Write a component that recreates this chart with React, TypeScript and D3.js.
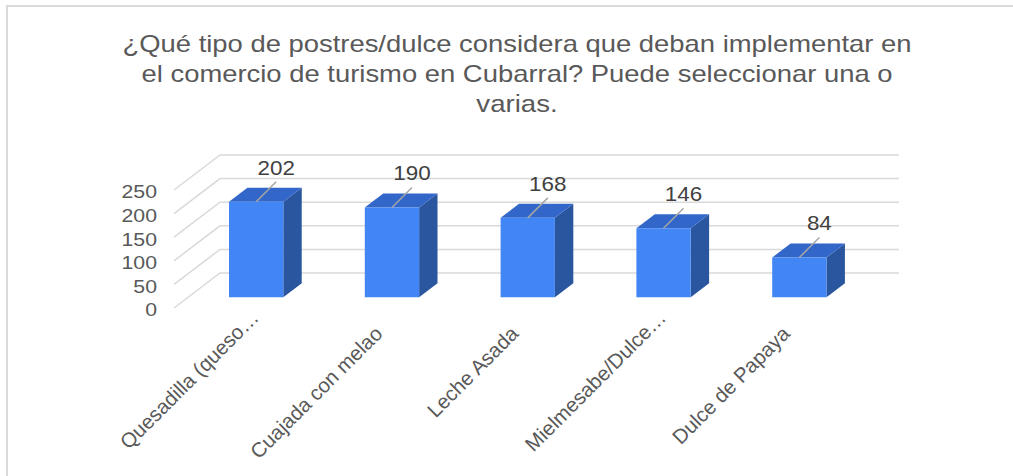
import React, { useRef, useEffect } from 'react';
import * as d3 from 'd3';

// Chart data
const categories = [
  'Quesadilla (queso…',
  'Cuajada con melao',
  'Leche Asada',
  'Mielmesabe/Dulce…',
  'Dulce de Papaya',
];
const values = [202, 190, 168, 146, 84];
const yTicks = [0, 50, 100, 150, 200, 250];
const titleLines = [
  '¿Qué tipo de postres/dulce considera que deban implementar en',
  'el comercio de turismo en Cubarral? Puede seleccionar una o',
  'varias.',
];

const W = 1013;
const H = 476;
const SX = 1.15; // the original picture is a bit wider than tall

function App() {
  const svgRef = useRef<SVGSVGElement>(null);

  useEffect(() => {
    const svg = d3.select(svgRef.current);
    svg.selectAll('*').remove();

    const font = 'Arial, "Liberation Sans", sans-serif';

    // Outer frame (only top and left edges are visible)
    svg.append('rect')
      .attr('x', 7)
      .attr('y', 6)
      .attr('width', W + 20)
      .attr('height', H + 20)
      .attr('fill', '#fff')
      .attr('stroke', '#d9d9d9')
      .attr('stroke-width', 2);

    // Title
    const titleWidths = [789, 751, null];
    titleLines.forEach((line, i) => {
      const t = svg.append('text')
        .attr('x', 517)
        .attr('y', 52 + i * 30)
        .attr('text-anchor', 'middle')
        .style('font-family', font)
        .style('font-size', '24px')
        .attr('fill', '#595959')
        .text(line);
      if (titleWidths[i]) {
        t.attr('textLength', titleWidths[i]).attr('lengthAdjust', 'spacingAndGlyphs');
      } else {
        t.attr('transform', `translate(517,0) scale(${SX},1) translate(-517,0)`);
      }
    });

    // Scales (front plane)
    const x = d3.scaleBand()
      .domain(categories)
      .range([174, 853])
      .paddingInner(0.6)
      .paddingOuter(0.3);

    const y = d3.scaleLinear()
      .domain([0, 250])
      .range([308, 190]);

    // depth vector of the 3D box
    const depth = { dx: 46, dy: -35 };
    const p = (px: number, v: number, t: number) => [px + depth.dx * t, y(v) + depth.dy * t];

    // Gridlines: side wall + back wall
    const grid = svg.append('g')
      .attr('stroke', '#d9d9d9')
      .attr('stroke-width', 1.5)
      .attr('fill', 'none');

    yTicks.forEach(v => {
      const a = p(174, v, 0);
      const b = p(174, v, 1);
      const c = p(853, v, 1);
      grid.append('path')
        .attr('d', `M${a[0]},${a[1]}L${b[0]},${b[1]}L${c[0]},${c[1]}`);
    });

    // Y axis labels
    yTicks.forEach(v => {
      svg.append('text')
        .attr('transform', `translate(157,${y(v) + 2}) scale(${SX},1)`)
        .attr('text-anchor', 'end')
        .attr('dy', '0.35em')
        .style('font-family', font)
        .style('font-size', '18.5px')
        .attr('fill', '#595959')
        .text(v);
    });

    // Bars
    const t0 = 0.31;
    const t1 = 0.71;
    const poly = (pts: number[][]) => 'M' + pts.map(q => q.join(',')).join('L') + 'Z';

    categories.forEach((cat, i) => {
      const v = values[i];
      const bx = x(cat) as number;
      const bw = x.bandwidth();
      const g = svg.append('g');

      // side face
      g.append('path')
        .attr('d', poly([p(bx + bw, v, t0), p(bx + bw, 0, t0), p(bx + bw, 0, t1), p(bx + bw, v, t1)]))
        .attr('fill', '#2a559f');

      // top face
      g.append('path')
        .attr('d', poly([p(bx, v, t0), p(bx + bw, v, t0), p(bx + bw, v, t1), p(bx, v, t1)]))
        .attr('fill', '#3266c9');

      // front face
      g.append('path')
        .attr('d', poly([p(bx, v, t0), p(bx + bw, v, t0), p(bx + bw, 0, t0), p(bx, 0, t0)]))
        .attr('fill', '#4285f4');

      // data label with leader line
      const top = p(bx + bw / 2, v, t0);
      const lx = top[0] + 20;
      const ly = top[1] - 34;
      g.append('line')
        .attr('x1', top[0])
        .attr('y1', top[1])
        .attr('x2', lx)
        .attr('y2', ly + 14)
        .attr('stroke', '#a6a6a6')
        .attr('stroke-width', 1.5);

      g.append('text')
        .attr('transform', `translate(${lx},${ly}) scale(${SX},1)`)
        .attr('text-anchor', 'middle')
        .attr('dy', '0.35em')
        .style('font-family', font)
        .style('font-size', '19.5px')
        .attr('fill', '#404040')
        .text(v);

      // category label (truncated ones sit a little higher)
      const cx = bx + bw / 2;
      const cut = cat.endsWith('…');
      const ax = cut ? cx + 18 : cx + 6;
      const ay = cut ? 319 : 335;
      svg.append('text')
        .attr('transform', `translate(${ax},${ay}) rotate(-45)`)
        .attr('text-anchor', 'end')
        .style('font-family', font)
        .style('font-size', '20.5px')
        .attr('fill', '#595959')
        .text(cat);
    });
  }, []);

  return (
    <svg
      ref={svgRef}
      width={W}
      height={H}
      style={{ position: 'absolute', left: 0, top: 0, background: '#fff' }}
    />
  );
}

export default App;
